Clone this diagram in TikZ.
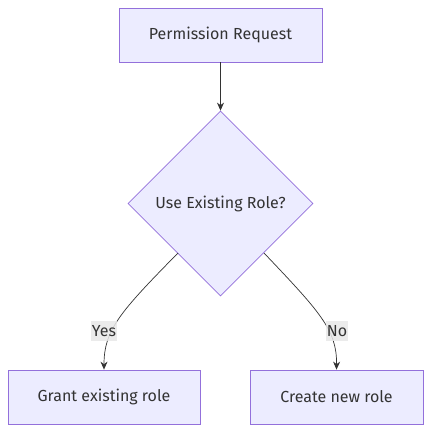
\documentclass[tikz,border=0pt]{standalone}
\usepackage{fontspec}
\setmainfont{Fira Sans}
\usetikzlibrary{shapes.geometric,arrows.meta}
\definecolor{nodefill}{HTML}{ECECFF}
\definecolor{nodeline}{HTML}{9370DB}
\definecolor{edgeline}{HTML}{333333}
\definecolor{lblfill}{HTML}{E8E8E8}
\definecolor{txt}{HTML}{333333}
\begin{document}
\begin{tikzpicture}[x=1pt,y=-1pt,
  box/.style={draw=nodeline,fill=nodefill,line width=0.8pt,inner sep=0pt,font=\fontsize{16}{18}\selectfont,text=txt},
  decision/.style={diamond,draw=nodeline,fill=nodefill,line width=0.8pt,inner sep=0pt,minimum width=185pt,minimum height=185pt,font=\fontsize{16}{18}\selectfont,text=txt},
  edge/.style={draw=edgeline,line width=0.7pt,-{Stealth[length=8pt,width=7pt]}},
  lbl/.style={fill=lblfill,fill opacity=0.85,text opacity=1,inner sep=0.5pt,minimum height=20pt,font=\fontsize{16}{18}\selectfont,text=txt}]
\useasboundingbox (0,0) rectangle (431,432);
\node[box,minimum width=203pt,minimum height=54pt] (req) at (220.5,35) {Permission Request};
\node[decision] (dec) at (220.5,203.5) {Use Existing Role?};
\node[box,minimum width=192pt,minimum height=54pt] (grant) at (104,397) {Grant existing role};
\node[box,minimum width=173pt,minimum height=54pt] (create) at (336.5,397) {Create new role};
\coordinate (dl) at (178,253);
\coordinate (dr) at (264,253);
\draw[edge] (req.south) -- (dec.north);
\draw[edge] (dl) .. controls (120,312) and (104,330) .. (grant.north);
\draw[edge] (dr) .. controls (320,312) and (337,330) .. (create.north);
\node[lbl] (yes) at (104,331) {Yes};
\node[lbl] (no) at (337,331) {No};
\end{tikzpicture}
\end{document}
